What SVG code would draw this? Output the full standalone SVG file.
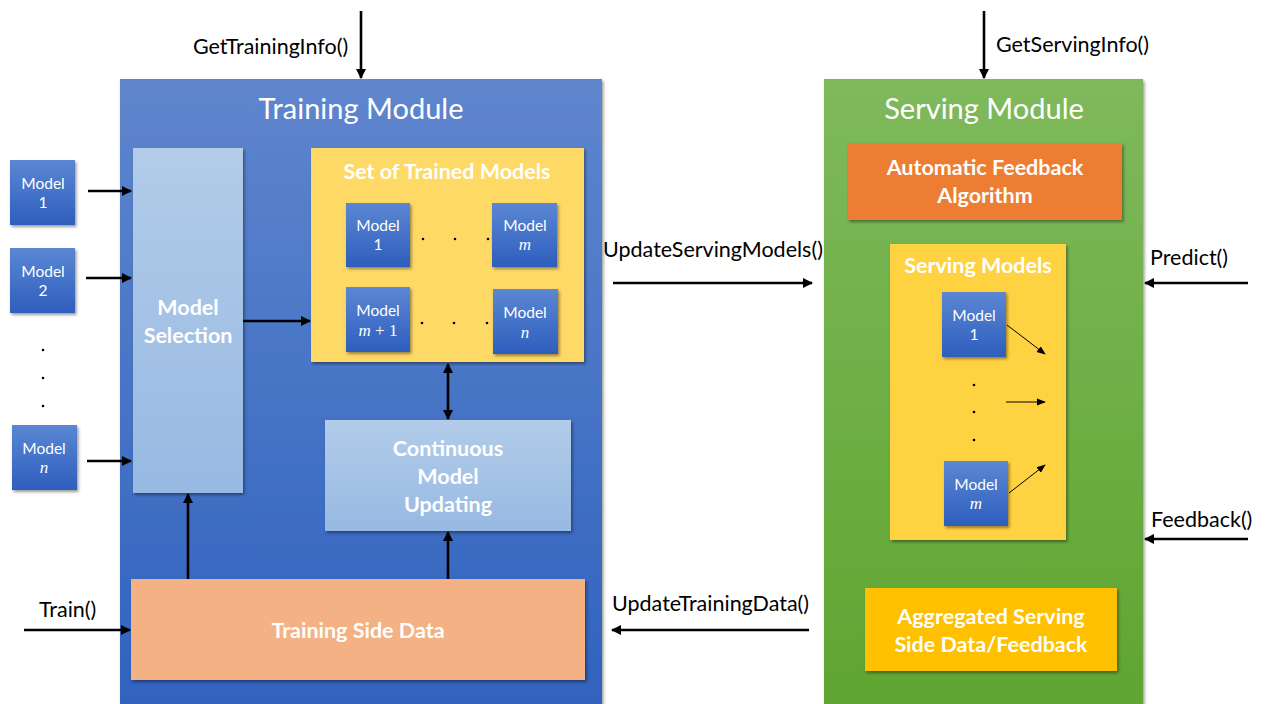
<svg xmlns="http://www.w3.org/2000/svg" width="1266" height="704" viewBox="0 0 1266 704">
<defs>
<linearGradient id="gTrain" x1="0" y1="0" x2="0" y2="1"><stop offset="0" stop-color="#5f86cd"/><stop offset="1" stop-color="#2f62be"/></linearGradient>
<linearGradient id="gServe" x1="0" y1="0" x2="0" y2="1"><stop offset="0" stop-color="#7fb95c"/><stop offset="1" stop-color="#5fa530"/></linearGradient>
<linearGradient id="gLight" x1="0" y1="0" x2="0" y2="1"><stop offset="0" stop-color="#b2cce9"/><stop offset="1" stop-color="#97b9e2"/></linearGradient>
<linearGradient id="gModel" x1="0" y1="0" x2="0" y2="1"><stop offset="0" stop-color="#5b87d3"/><stop offset="1" stop-color="#2e5ebd"/></linearGradient>
<filter id="sh" x="-10%" y="-10%" width="125%" height="125%"><feDropShadow dx="1.5" dy="2" stdDeviation="1.8" flood-color="#000" flood-opacity="0.4"/></filter>
<marker id="ah" viewBox="0 0 10 10" refX="9" refY="5" markerWidth="4" markerHeight="4" orient="auto-start-reverse"><path d="M0,0 L10,5 L0,10 z" fill="#000"/></marker>
<marker id="ahs" viewBox="0 0 10 10" refX="9" refY="5" markerWidth="9" markerHeight="9" orient="auto"><path d="M0,1 L10,5 L0,9 z" fill="#000"/></marker>
</defs>
<style>
.lbl{font-family:Lato,"Liberation Sans",sans-serif;font-size:21.5px;fill:#000}
.title{font-family:Lato,"Liberation Sans",sans-serif;font-size:29px;fill:#fff;text-anchor:middle}
.bold{font-family:Lato,"Liberation Sans",sans-serif;font-weight:bold;font-size:21.5px;fill:#fff;text-anchor:middle}
.mt{font-family:Lato,"Liberation Sans",sans-serif;font-size:15.5px;fill:#fff;text-anchor:middle}
.mi{font-family:"Liberation Serif",serif;font-style:italic;font-size:17px;fill:#fff;text-anchor:middle}
.mb{fill:url(#gModel);filter:url(#sh)}
.ln{stroke:#000;stroke-width:2.6;fill:none;marker-end:url(#ah)}
.thin{stroke:#000;stroke-width:1;fill:none;marker-end:url(#ahs)}
</style>
<rect width="1266" height="704" fill="#fff"/>

<g id="training-module">
<rect x="120" y="79" width="482" height="630" fill="url(#gTrain)" filter="url(#sh)"/>
<text class="title" x="361" y="119">Training Module</text>
</g>
<g id="serving-module">
<rect x="824" y="79" width="319" height="630" fill="url(#gServe)" filter="url(#sh)"/>
<text class="title" x="984" y="119">Serving Module</text>
</g>

<g id="model-selection">
<rect x="133" y="148" width="110" height="345" fill="url(#gLight)" filter="url(#sh)"/>
<text class="bold" x="188" y="315">Model</text>
<text class="bold" x="188" y="343">Selection</text>
</g>

<g id="trained-models">
<rect x="311" y="148" width="273" height="214" fill="#ffd966" filter="url(#sh)"/>
<text class="bold" x="447" y="179">Set of Trained Models</text>
<rect class="mb" x="346" y="203" width="64" height="64"/>
<text class="mt" x="378" y="231">Model</text><text class="mt" x="378" y="250">1</text>
<rect class="mb" x="492" y="203" width="65" height="64"/>
<text class="mt" x="525" y="231">Model</text><text class="mi" x="525" y="250">m</text>
<rect class="mb" x="346" y="287" width="64" height="65"/>
<text class="mt" x="378" y="316">Model</text><text class="mi" x="378" y="336">m <tspan style="font-style:normal">+ 1</tspan></text>
<rect class="mb" x="493" y="289" width="65" height="65"/>
<text class="mt" x="525" y="318">Model</text><text class="mi" x="525" y="338">n</text>
<g fill="#000"><circle cx="423" cy="239" r="1.3"/><circle cx="455" cy="239" r="1.3"/><circle cx="488" cy="239" r="1.3"/><circle cx="422" cy="323" r="1.3"/><circle cx="454" cy="323" r="1.3"/><circle cx="487" cy="323" r="1.3"/></g>
</g>

<g id="continuous-updating">
<rect x="325" y="420" width="246" height="111" fill="url(#gLight)" filter="url(#sh)"/>
<text class="bold" x="448" y="456">Continuous</text>
<text class="bold" x="448" y="484">Model</text>
<text class="bold" x="448" y="512">Updating</text>
</g>

<g id="training-side-data">
<rect x="131" y="579" width="454" height="101" fill="#f4b183" filter="url(#sh)"/>
<text class="bold" x="358" y="638">Training Side Data</text>
</g>

<g id="input-models">
<rect class="mb" x="10" y="160" width="65" height="65"/>
<text class="mt" x="43" y="189">Model</text><text class="mt" x="43" y="208">1</text>
<rect class="mb" x="10" y="248" width="65" height="65"/>
<text class="mt" x="43" y="277">Model</text><text class="mt" x="43" y="296">2</text>
<rect class="mb" x="12" y="425" width="65" height="65"/>
<text class="mt" x="44" y="454">Model</text><text class="mi" x="44" y="473">n</text>
<g fill="#000"><circle cx="43" cy="350" r="1.3"/><circle cx="43" cy="378" r="1.3"/><circle cx="43" cy="406" r="1.3"/></g>
</g>

<g id="feedback-algorithm">
<rect x="848" y="143" width="274" height="77" fill="#ed7d31" filter="url(#sh)"/>
<text class="bold" x="985" y="175">Automatic Feedback</text>
<text class="bold" x="985" y="203">Algorithm</text>
</g>

<g id="serving-models">
<rect x="890" y="244" width="176" height="296" fill="#ffd243" filter="url(#sh)"/>
<text class="bold" x="978" y="273">Serving Models</text>
<rect class="mb" x="942" y="292" width="64" height="65"/>
<text class="mt" x="974" y="321">Model</text><text class="mt" x="974" y="340">1</text>
<rect class="mb" x="944" y="461" width="64" height="65"/>
<text class="mt" x="976" y="490">Model</text><text class="mi" x="976" y="509">m</text>
<g fill="#000"><circle cx="974" cy="385" r="1.3"/><circle cx="974" cy="412" r="1.3"/><circle cx="974" cy="440" r="1.3"/></g>
<path class="thin" d="M1007,325 L1045,354"/>
<path class="thin" d="M1006,402 L1045,402"/>
<path class="thin" d="M1009,493 L1045,465"/>
</g>

<g id="aggregated-data">
<rect x="865" y="588" width="252" height="83" fill="#ffc000" filter="url(#sh)"/>
<text class="bold" x="991" y="624">Aggregated Serving</text>
<text class="bold" x="991" y="652">Side Data/Feedback</text>
</g>

<g id="connectors">
<path class="ln" d="M361,11 L361,78"/>
<path class="ln" d="M984,11 L984,78"/>
<path class="ln" d="M88,191 L131,191"/>
<path class="ln" d="M86,278 L131,278"/>
<path class="ln" d="M87,461 L131,461"/>
<path class="ln" d="M243,321 L310,321"/>
<path class="ln" d="M448,364 L448,419" marker-start="url(#ah)"/>
<path class="ln" d="M188,579 L188,494"/>
<path class="ln" d="M448,579 L448,532"/>
<path class="ln" d="M24,630 L130,630"/>
<path class="ln" d="M613,283 L812,283"/>
<path class="ln" d="M809,630 L612,630"/>
<path class="ln" d="M1248,283 L1145,283"/>
<path class="ln" d="M1248,539 L1145,539"/>
</g>

<g id="labels">
<text class="lbl" x="193" y="54">GetTrainingInfo()</text>
<text class="lbl" x="996" y="52">GetServingInfo()</text>
<text class="lbl" x="603" y="257">UpdateServingModels()</text>
<text class="lbl" x="612" y="611">UpdateTrainingData()</text>
<text class="lbl" x="1150" y="265">Predict()</text>
<text class="lbl" x="1151" y="527">Feedback()</text>
<text class="lbl" x="39" y="617">Train()</text>
</g>
</svg>
